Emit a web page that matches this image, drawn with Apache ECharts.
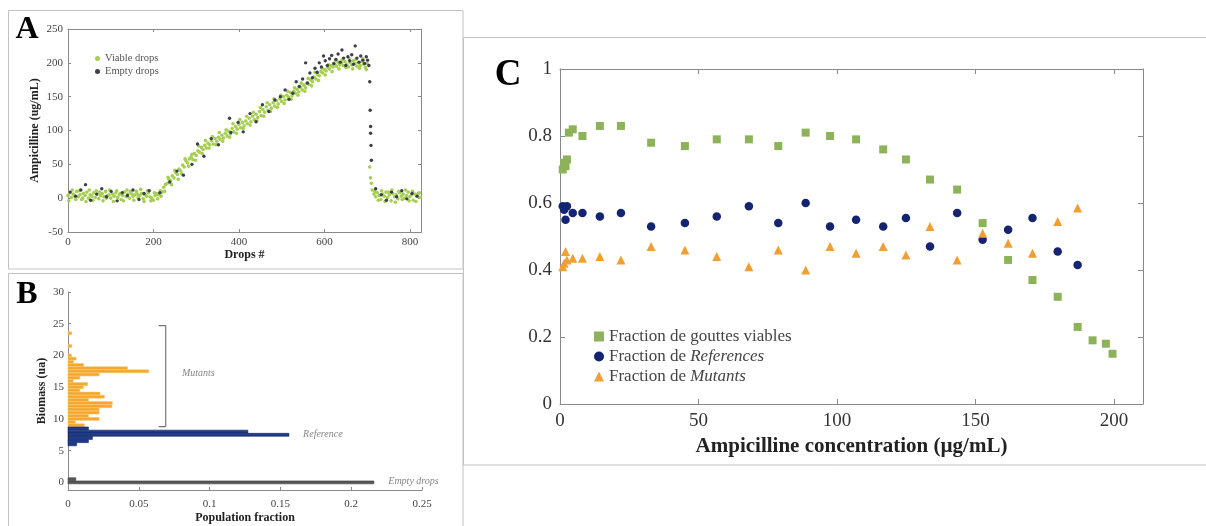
<!DOCTYPE html>
<html><head><meta charset="utf-8">
<script src="https://cdn.jsdelivr.net/npm/echarts@6/dist/echarts.min.js"></script>
<style>html,body{margin:0;padding:0;background:#fff}#c{width:1206px;height:526px}</style>
</head><body><div id="c"></div>
<script>
// ---------- Panel A : ampicilline per drop ----------
const viableDrops = [
[0,4],[4,8],[8,1],[12,6],[16,3],[20,10],[24,2],[28,5],[32,-2],[36,7],[40,4],[44,9],[48,0],[52,5],[56,3],[60,8],[64,1],[68,6],[72,-1],[76,4],[80,7],[84,2],[88,10],[92,3],[96,5],[100,0],[104,6],[108,3],[112,8],[116,1],[120,5],[124,-2],[128,4],[132,9],[136,2],[140,6],[144,0],[148,7],[152,3],[156,5],[160,10],[164,1],[168,4],[172,7],[176,-1],[180,5],[184,3],[188,8],[192,2],[196,0],[200,-3],
[204,4],[208,7],[212,5],[216,11],[220,9],[224,16],[228,20],[232,22],[236,28],[240,26],[244,33],[248,30],[252,38],[256,35],[260,43],[264,40],[268,49],[272,46],[276,55],[280,52],[284,58],[288,61],[292,57],[296,66],[300,63],[304,70],[308,68],[312,75],[316,72],[320,78],[324,74],[328,81],[332,79],[336,85],[340,80],[344,88],[348,84],[352,90],[356,87],[360,93],[364,89],[368,96],[372,92],[376,99],[380,95],[384,103],[388,98],[392,106],[396,102],[400,109],[404,104],[408,112],[412,107],[416,114],[420,110],[424,118],[428,113],[432,121],[436,116],[440,124],[444,119],[448,128],[452,122],[456,131],[460,127],[464,135],[468,130],[472,138],[476,133],[480,141],[484,136],[488,144],[492,139],[496,147],[500,143],[504,150],[508,145],[512,152],[516,149],[520,156],[524,151],[528,158],[532,155],[536,161],[540,157],[544,164],[548,160],[552,167],[556,163],[560,171],[564,168],[568,175],[572,172],[576,179],[580,176],[584,183],[588,181],[592,187],[596,185],[600,190],[604,188],[608,193],[612,191],[616,196],[620,194],[624,198],[628,195],[632,201],[636,197],[640,200],[644,196],[648,202],[652,198],[656,194],[660,201],[664,197],[668,203],[672,199],[676,195],[680,200],[684,196],[688,202],[692,198],[696,193],[700,199],
[706,46],[708,30],[710,22],[712,12],
[716,6],[720,2],[724,8],[728,4],[732,-2],[736,6],[740,3],[744,9],[748,1],[752,5],[756,-4],[760,7],[764,2],[768,5],[772,-1],[776,8],[780,3],[784,6],[788,0],[792,4],[796,9],[800,2],[804,5],[808,-3],[812,6],[816,3],[820,7],[824,1],
[2,-4],[10,12],[18,-2],[26,11],[34,0],[42,-5],[50,12],[58,-3],[66,11],[74,9],[82,-4],[90,0],[98,12],[106,-5],[114,11],[122,7],[130,-4],[138,12],[146,10],[154,-3],[162,6],[170,13],[178,-5],[186,11],[194,-4],
[202,8],[210,-1],[218,3],[226,10],[234,31],[242,20],[250,41],[258,28],[266,36],[274,58],[282,47],[290,65],[298,56],[306,77],[314,66],[322,85],[330,74],[338,91],[346,79],[354,97],[362,84],[370,101],[378,90],[386,110],[394,96],[402,116],[410,103],[418,121],[426,108],[434,127],[442,114],[450,134],[458,121],[466,141],[474,128],[482,147],[490,134],[498,152],[506,140],[514,158],[522,146],[530,163],[538,152],[546,170],[554,158],[562,177],[570,166],[578,186],[586,174],[594,192],[602,182],[610,197],[618,187],[626,204],[634,191],[642,205],[650,193],[658,206],[666,191],[674,205],[682,192],[690,206],[698,190],
[718,10],[726,-3],[734,11],[742,-5],[750,9],[758,12],[766,-6],[774,10],[782,-2],[790,12],[798,-4],[806,10],[814,-5],[822,8]
];
const emptyDrops = [
[5,9],[18,3],[30,12],[41,20],[53,-3],[67,6],[79,14],[90,2],[101,10],[115,-4],[127,8],[139,4],[152,12],[166,-2],[178,7],[190,11],
[215,8],[238,24],[255,40],[270,34],[290,50],[303,80],[318,62],[335,88],[352,79],[378,118],[381,97],[398,112],[410,98],[426,125],[440,113],[455,138],[470,128],[484,145],[497,150],[508,160],[517,146],[526,155],[534,172],[541,165],[549,176],[556,200],[560,170],[566,185],[572,178],[578,192],[583,186],[588,200],[593,194],[598,210],[602,203],[607,196],[612,206],[617,211],[622,199],[627,205],[632,213],[637,201],[641,219],[645,207],[650,196],[655,209],[659,203],[664,212],[668,198],[672,225],[676,207],[681,201],[685,210],[690,204],[694,199],[698,209],[701,204],
[704,196],[706,172],[707,130],[708,106],[708,96],[709,78],[710,56],
[720,14],[733,5],[745,-3],[757,9],[769,2],[781,11],[793,-1],[805,7],[817,3]
];
const aXTicks = [0, 200, 400, 600, 800];

// ---------- Panel B : biomass histogram ----------
const mutantBiomass  = [23.5, 21.5, 20.0, 19.5, 19.0, 18.5, 18.0, 17.5, 17.0, 16.5, 16.0, 15.5, 15.0, 14.5, 14.0, 13.5, 13.0, 12.5, 12.0, 11.5, 11.0, 10.5, 10.0, 9.5, 9.0];
const mutantFraction = [0.0026, 0.0026, 0.0025, 0.0057, 0.0038, 0.011, 0.042, 0.057, 0.022, 0.0084, 0.0036, 0.0139, 0.011, 0.0084, 0.0226, 0.0257, 0.0144, 0.0313, 0.031, 0.022, 0.022, 0.0144, 0.022, 0.0052, 0.0115];
const referenceBiomass  = [8.5, 8.0, 7.5, 7.0, 6.5, 6.0];
const referenceFraction = [0.0144, 0.127, 0.156, 0.0172, 0.0144, 0.006];
const emptyBiomass  = [0.5, 0];
const emptyFraction = [0.0055, 0.216];
const bYTicks = [0, 5, 10, 15, 20, 25, 30];
const bracketX = [0.064, 0.069, 0.069, 0.064];
const bracketY = [24.7, 24.7, 8.8, 8.8];
const bNotes = [[0.092, 17.1, 'Mutants'], [0.180, 7.6, 'Reference'], [0.244, 0.1, 'Empty drops']];

// ---------- Panel C : fractions vs concentration ----------
const viableConc = [1.0, 1.5, 2.0, 2.5, 3.2, 4.6, 8.1, 14.4, 22.0, 32.9, 45.1, 56.6, 68.2, 78.8, 88.7, 97.5, 106.9, 116.7, 124.9, 133.6, 143.4, 152.6, 161.8, 170.6, 179.7, 186.9, 192.3, 197.1, 199.5];
const viableFrac = [0.70, 0.72, 0.71, 0.73, 0.81, 0.82, 0.80, 0.83, 0.83, 0.78, 0.77, 0.79, 0.79, 0.77, 0.81, 0.80, 0.79, 0.76, 0.73, 0.67, 0.64, 0.54, 0.43, 0.37, 0.32, 0.23, 0.19, 0.18, 0.15];
const cellConc = [1.0, 1.5, 2.0, 2.5, 4.6, 8.1, 14.4, 22.0, 32.9, 45.1, 56.6, 68.2, 78.8, 88.7, 97.5, 106.9, 116.7, 124.9, 133.6, 143.4, 152.6, 161.8, 170.6, 179.7, 186.9];
const referenceFrac = [0.59, 0.58, 0.55, 0.59, 0.57, 0.57, 0.56, 0.57, 0.53, 0.54, 0.56, 0.59, 0.54, 0.60, 0.53, 0.55, 0.53, 0.555, 0.47, 0.57, 0.49, 0.52, 0.555, 0.455, 0.415];
const mutantFrac = [0.41, 0.42, 0.455, 0.43, 0.435, 0.435, 0.44, 0.43, 0.47, 0.46, 0.44, 0.41, 0.46, 0.40, 0.47, 0.45, 0.47, 0.445, 0.53, 0.43, 0.51, 0.48, 0.45, 0.545, 0.585];
const cXTicks = [0, 50, 100, 150, 200];

// ---------- build ----------
const SERIF = "'Liberation Serif', 'DejaVu Serif', serif";
const zip = (a, b) => a.map((v, i) => [v, b[i]]);
const AX = '#8a8a8a';

function tick(len, values) {
  const t = { show: true, inside: true, length: len, lineStyle: { color: AX } };
  if (values) t.customValues = values;
  return t;
}
function axisBase(extra) {
  return Object.assign({
    type: 'value',
    axisLine: { show: true, onZero: false, lineStyle: { color: AX, width: 1 } },
    axisTick: tick(3),
    axisLabel: { fontFamily: SERIF, color: '#444', fontSize: 11 },
    splitLine: { show: false },
    nameTextStyle: { fontFamily: SERIF, fontWeight: 'bold', color: '#222', fontSize: 12 }
  }, extra);
}
function mirror(extra) {
  return axisBase(Object.assign({ axisLabel: { show: false } }, extra));
}
function hbar(color, stroke, half) {
  return function (params, api) {
    const x = api.value(0), y = api.value(1);
    const p0 = api.coord([0, y + half]);
    const p1 = api.coord([x, y - half]);
    return { type: 'rect', shape: { x: p0[0], y: p0[1], width: p1[0] - p0[0], height: p1[1] - p0[1] },
             style: { fill: color, stroke: stroke, lineWidth: 0.6 } };
  };
}

const chart = echarts.init(document.getElementById('c'), null, { renderer: 'canvas' });
chart.setOption({
  animation: false,
  backgroundColor: '#fff',
  grid: [
    { left: 68, top: 29, width: 353, height: 203 },
    { left: 68, top: 292, width: 354, height: 198 },
    { left: 560, top: 69, width: 583, height: 335 }
  ],
  xAxis: [
    axisBase({ gridIndex: 0, min: 0, max: 826, name: 'Drops #', nameLocation: 'middle', nameGap: 17,
      axisTick: tick(3, aXTicks),
      axisLabel: { fontFamily: SERIF, color: '#444', fontSize: 11, margin: 5, customValues: aXTicks } }),
    mirror({ gridIndex: 0, position: 'top', min: 0, max: 826, axisTick: tick(3, aXTicks) }),
    axisBase({ gridIndex: 1, min: 0, max: 0.25, interval: 0.05, name: 'Population fraction', nameLocation: 'middle', nameGap: 22,
      axisLabel: { fontFamily: SERIF, color: '#444', fontSize: 11, margin: 9 } }),
    axisBase({ gridIndex: 2, min: 0, max: 210.5, name: 'Ampicilline concentration (µg/mL)', nameLocation: 'middle', nameGap: 31,
      nameTextStyle: { fontFamily: SERIF, fontWeight: 'bold', color: '#222', fontSize: 21 },
      axisTick: tick(5, cXTicks),
      axisLabel: { fontFamily: SERIF, color: '#333', fontSize: 19, margin: 8, customValues: cXTicks } }),
    mirror({ gridIndex: 2, position: 'top', min: 0, max: 210.5, axisTick: tick(5, cXTicks) })
  ],
  yAxis: [
    axisBase({ gridIndex: 0, min: -50, max: 250, interval: 50, name: 'Ampicilline (ug/mL)', nameLocation: 'middle', nameGap: 27,
      axisLabel: { fontFamily: SERIF, color: '#444', fontSize: 11, margin: 5 } }),
    mirror({ gridIndex: 0, position: 'right', min: -50, max: 250, interval: 50 }),
    axisBase({ gridIndex: 1, min: -1.2, max: 30, name: 'Biomass (ua)', nameLocation: 'middle', nameGap: 20,
      axisTick: tick(3, bYTicks),
      axisLabel: { fontFamily: SERIF, color: '#444', fontSize: 11, margin: 4, customValues: bYTicks } }),
    axisBase({ gridIndex: 2, min: 0, max: 1, interval: 0.2, axisTick: tick(5),
      axisLabel: { fontFamily: SERIF, color: '#333', fontSize: 19, margin: 8 } }),
    mirror({ gridIndex: 2, position: 'right', min: 0, max: 1, interval: 0.2, axisTick: tick(5) })
  ],
  legend: [
    { data: ['Viable drops', 'Empty drops'], left: 90, top: 48, orient: 'vertical', itemWidth: 5, itemHeight: 5, itemGap: 2,
      textStyle: { fontFamily: SERIF, fontSize: 10.5, color: '#555' } },
    { data: ['Fraction de gouttes viables', 'Fraction de References', 'Fraction de Mutants'], left: 589, top: 323,
      orient: 'vertical', itemWidth: 10, itemHeight: 10, itemGap: 3,
      formatter: function (name) {
        if (name === 'Fraction de References') return '{n|Fraction de }{i|References}';
        if (name === 'Fraction de Mutants') return '{n|Fraction de }{i|Mutants}';
        return '{n|' + name + '}';
      },
      textStyle: { fontFamily: SERIF, fontSize: 17, color: '#444',
        rich: { n: { fontFamily: SERIF, fontSize: 17, color: '#444' }, i: { fontFamily: SERIF, fontSize: 17, fontStyle: 'italic', color: '#444' } } } }
  ],
  graphic: [
    { type: 'rect', z: -10, shape: { x: 8.5, y: 10.5, width: 454.5, height: 258.5 }, style: { fill: 'none', stroke: '#c2c2c2', lineWidth: 1 } },
    { type: 'rect', z: -10, shape: { x: 8.5, y: 273.5, width: 454.5, height: 260 }, style: { fill: 'none', stroke: '#c2c2c2', lineWidth: 1 } },
    { type: 'rect', z: -10, shape: { x: 463.5, y: 37.5, width: 760, height: 427.5 }, style: { fill: 'none', stroke: '#c2c2c2', lineWidth: 1 } },
    { type: 'text', x: 27, y: 30, style: { text: 'A', font: 'bold 32px ' + SERIF, fill: '#000', align: 'center', verticalAlign: 'middle' } },
    { type: 'text', x: 27, y: 295, style: { text: 'B', font: 'bold 32px ' + SERIF, fill: '#000', align: 'center', verticalAlign: 'middle' } },
    { type: 'text', x: 508, y: 75, style: { text: 'C', font: 'bold 37px ' + SERIF, fill: '#000', align: 'center', verticalAlign: 'middle' } }
  ],
  series: [
    { name: 'Viable drops', type: 'scatter', xAxisIndex: 0, yAxisIndex: 0, data: viableDrops, symbol: 'circle', symbolSize: 3.6,
      itemStyle: { color: '#a6cf52', opacity: 1 } },
    { name: 'Empty drops', type: 'scatter', xAxisIndex: 0, yAxisIndex: 0, data: emptyDrops, symbol: 'circle', symbolSize: 3.4,
      itemStyle: { color: '#3a3f4b', opacity: 1 } },

    { name: 'Mutants hist', type: 'custom', xAxisIndex: 2, yAxisIndex: 2, data: zip(mutantFraction, mutantBiomass),
      renderItem: hbar('#f5a62b', '#f8c46f', 0.23) },
    { name: 'Reference hist', type: 'custom', xAxisIndex: 2, yAxisIndex: 2, data: zip(referenceFraction, referenceBiomass),
      renderItem: hbar('#1f3c8e', '#0e1f55', 0.23) },
    { name: 'Empty hist', type: 'custom', xAxisIndex: 2, yAxisIndex: 2, data: zip(emptyFraction, emptyBiomass),
      renderItem: hbar('#555', '#444', 0.23) },
    { name: 'bracket', type: 'line', xAxisIndex: 2, yAxisIndex: 2, data: zip(bracketX, bracketY), symbol: 'none',
      lineStyle: { color: '#777', width: 1.2 } },
    { name: 'notes', type: 'scatter', xAxisIndex: 2, yAxisIndex: 2, data: bNotes, symbolSize: 0,
      label: { show: true, position: 'inside', formatter: p => p.value[2], fontFamily: SERIF, fontStyle: 'italic', fontSize: 10, color: '#666' } },

    { name: 'Fraction de gouttes viables', type: 'scatter', xAxisIndex: 3, yAxisIndex: 3, data: zip(viableConc, viableFrac),
      symbol: 'rect', symbolSize: 8, itemStyle: { color: '#8db35a', opacity: 1 } },
    { name: 'Fraction de References', type: 'scatter', xAxisIndex: 3, yAxisIndex: 3, data: zip(cellConc, referenceFrac),
      symbol: 'circle', symbolSize: 8.5, itemStyle: { color: '#142470', opacity: 1 } },
    { name: 'Fraction de Mutants', type: 'scatter', xAxisIndex: 3, yAxisIndex: 3, data: zip(cellConc, mutantFrac),
      symbol: 'triangle', symbolSize: 9, itemStyle: { color: '#f0a032', opacity: 1 } }
  ]
});
</script>
</body></html>
